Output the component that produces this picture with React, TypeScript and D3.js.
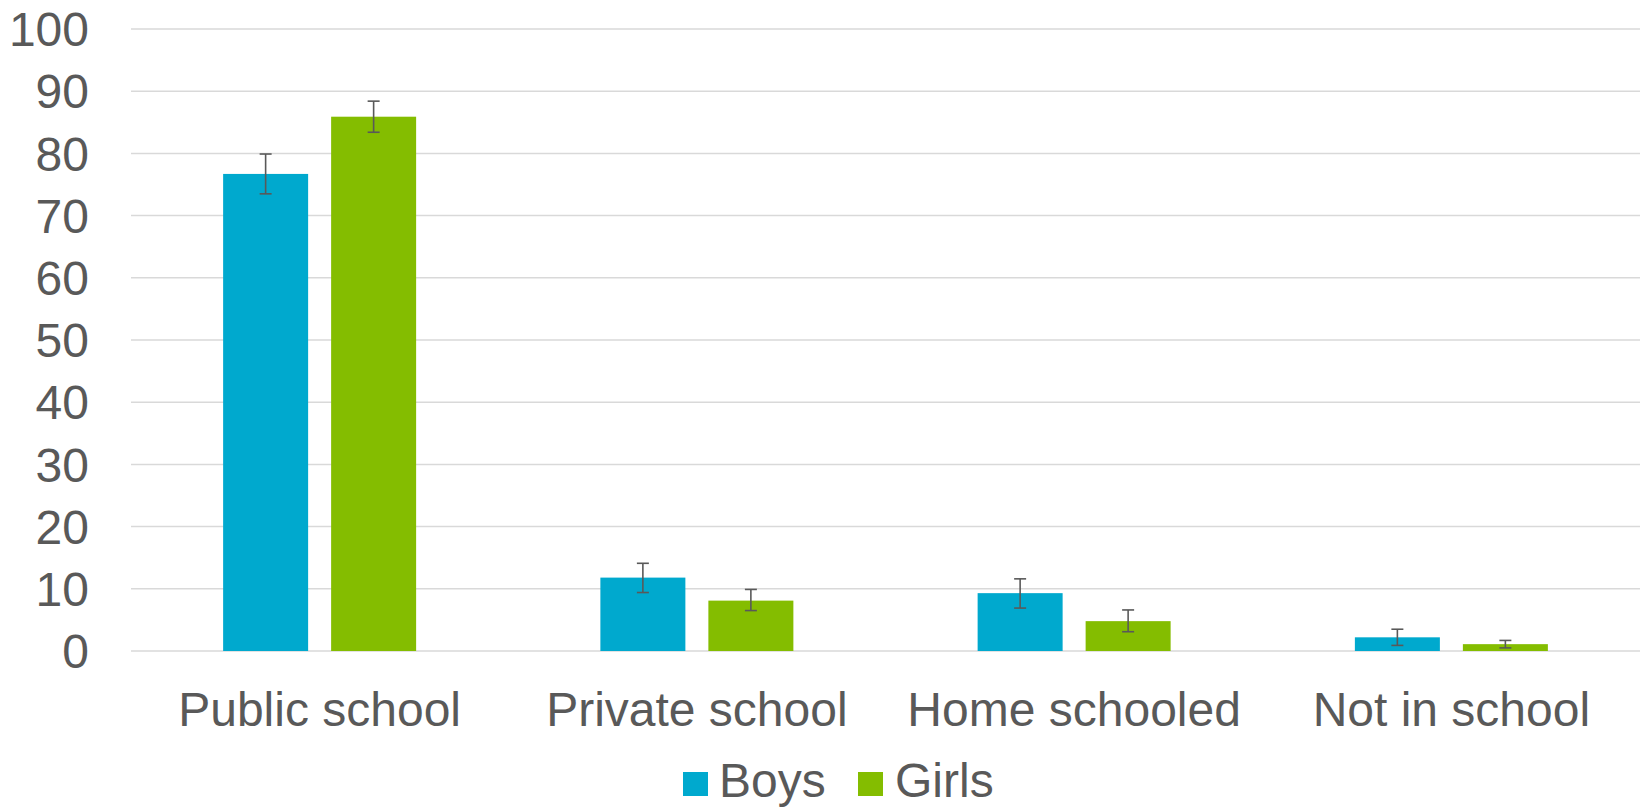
import React from "react";
import * as d3 from "d3";

const categories = ["Public school", "Private school", "Home schooled", "Not in school"];
const seriesNames = ["Boys", "Girls"];
const boysValues = [76.7, 11.8, 9.3, 2.2];
const girlsValues = [85.9, 8.1, 4.8, 1.1];
const boysErrLow = [73.5, 9.4, 6.9, 0.9];
const boysErrHigh = [79.9, 14.1, 11.6, 3.5];
const girlsErrLow = [83.4, 6.5, 3.1, 0.5];
const girlsErrHigh = [88.4, 9.9, 6.6, 1.7];
const yTicks = [0, 10, 20, 30, 40, 50, 60, 70, 80, 90, 100];
const colors = ["#00A9CE", "#84BD00"];

const W = 1643;
const H = 808;
const left = 131;
const right = 1640;
const top = 29;
const bottom = 651;
const textColor = "#595959";
const font = "'Liberation Sans', Arial, sans-serif";
const fs = 48;

export default function App() {
  const x = d3.scaleBand<string>().domain(categories).range([left, right]).paddingInner(0).paddingOuter(0);
  const y = d3.scaleLinear().domain([0, 100]).range([bottom, top]);
  const step = x.bandwidth();
  const barW = 85;
  const innerGap = 23;
  const groupW = barW * 2 + innerGap;
  const series = [
    { name: "Boys", vals: boysValues, lo: boysErrLow, hi: boysErrHigh, color: colors[0] },
    { name: "Girls", vals: girlsValues, lo: girlsErrLow, hi: girlsErrHigh, color: colors[1] },
  ];
  const capW = 12;

  return (
    <svg width={W} height={H} style={{ position: "absolute", left: 0, top: 0, background: "#fff" }} fontFamily={font}>
      {yTicks.map((t) => (
        <g key={t}>
          <line x1={left} x2={right} y1={y(t)} y2={y(t)} stroke="#d9d9d9" strokeWidth={1.5} />
          <text x={89} y={y(t)} dy="0.36em" textAnchor="end" fontSize={fs} fill={textColor}>
            {t}
          </text>
        </g>
      ))}
      {categories.map((c, i) => {
        const gx = (x(c) as number) + (step - groupW) / 2;
        return (
          <g key={c}>
            {series.map((s, j) => {
              const bx = gx + j * (barW + innerGap);
              const cx = bx + barW / 2;
              return (
                <g key={s.name}>
                  <rect x={bx} y={y(s.vals[i])} width={barW} height={bottom - y(s.vals[i])} fill={s.color} />
                  <line x1={cx} x2={cx} y1={y(s.hi[i])} y2={y(s.lo[i])} stroke={textColor} strokeWidth={1.6} />
                  <line x1={cx - capW / 2} x2={cx + capW / 2} y1={y(s.hi[i])} y2={y(s.hi[i])} stroke={textColor} strokeWidth={1.6} />
                  <line x1={cx - capW / 2} x2={cx + capW / 2} y1={y(s.lo[i])} y2={y(s.lo[i])} stroke={textColor} strokeWidth={1.6} />
                </g>
              );
            })}
            <text x={(x(c) as number) + step / 2} y={726} textAnchor="middle" fontSize={fs} fill={textColor}>
              {c}
            </text>
          </g>
        );
      })}
      <g>
        <rect x={683} y={772} width={25} height={24} fill={colors[0]} />
        <text x={719} y={797} fontSize={fs} fill={textColor}>
          {seriesNames[0]}
        </text>
        <rect x={858} y={772} width={25} height={24} fill={colors[1]} />
        <text x={895} y={797} fontSize={fs} fill={textColor}>
          {seriesNames[1]}
        </text>
      </g>
    </svg>
  );
}
